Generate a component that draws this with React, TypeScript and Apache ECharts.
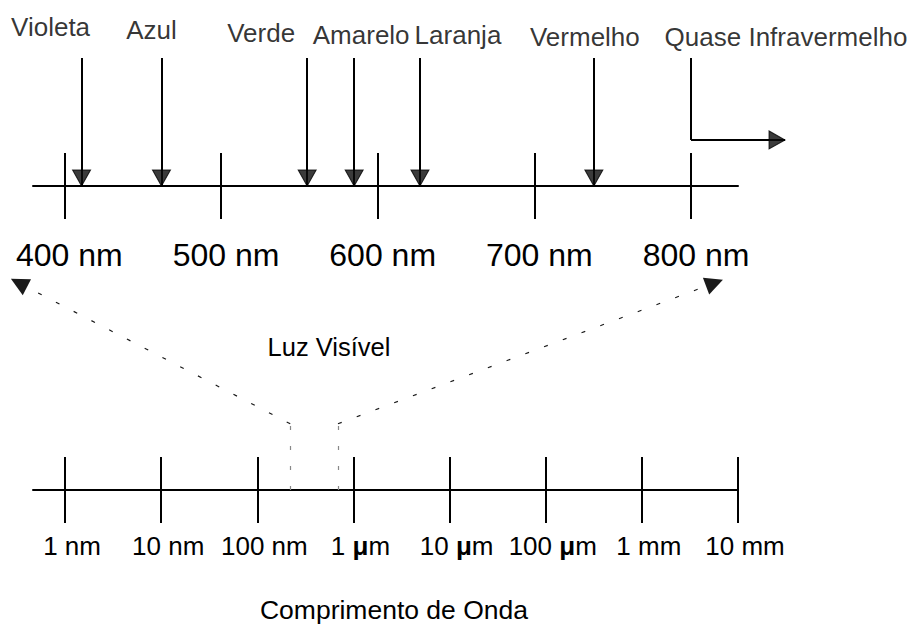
import React, { useEffect, useRef } from "react";
import * as echarts from "echarts";

// ---- data ----
// Upper scale: visible light, in nm
const VISIBLE_TICKS_NM = [400, 500, 600, 700, 800];
const VISIBLE_AXIS_MIN_NM = 380;
const VISIBLE_AXIS_MAX_NM = 830;
const COLOR_NAMES = ["Violeta", "Azul", "Verde", "Amarelo", "Laranja", "Vermelho"];
const COLOR_NM = [411, 462, 555, 585, 627, 738];
const NEAR_IR_NAME = "Quase Infravermelho";
const NEAR_IR_START_NM = 800;
const NEAR_IR_END_NM = 860;
const VISIBLE_TITLE = "Luz Visível";

// Lower scale: whole spectrum (logarithmic), in nm
const SPECTRUM_TICKS_NM = [1, 10, 100, 1000, 10000, 100000, 1000000, 10000000];
const SPECTRUM_TICK_LABELS = ["1 nm", "10 nm", "100 nm", "1 {mu|μ}m", "10 {mu|μ}m", "100 {mu|μ}m", "1 mm", "10 mm"];
const SPECTRUM_AXIS_MIN_NM = 0.464;
const SPECTRUM_AXIS_MAX_NM = 10000000;
const SPECTRUM_TITLE = "Comprimento de Onda";
// where the visible band sits on the lower scale and where the callouts point on the upper scale
const VISIBLE_BAND_ON_SPECTRUM_NM = [220, 690];
const CALLOUT_TARGET_NM = [371, 815];

const FONT = "'Liberation Sans', Arial, Helvetica, sans-serif";
const BLACK = "#000";

export default function App() {
  const ref = useRef<HTMLDivElement | null>(null);

  useEffect(() => {
    if (!ref.current) return;
    const chart = echarts.init(ref.current, null, { renderer: "svg" });

    const spectrumExp = SPECTRUM_TICKS_NM.map((v) => Math.log10(v));
    const spectrumLabel = (v: number) => {
      const i = spectrumExp.findIndex((e) => Math.abs(e - v) < 1e-6);
      return i >= 0 ? SPECTRUM_TICK_LABELS[i] : "";
    };

    const labelOffsets: number[][] = [
      [-31, -31],
      [-10, -28],
      [-46, -25],
      [7, -23],
      [38, -23],
      [-9, -21],
    ];
    const nearIrLabelOffset = [95, -21];
    const cornerY = 0.36;
    const elbowY = 0.32;

    const tickStyle = { color: BLACK, width: 2 };
    const axisBase = (grid: number, min: number, max: number) => ({
      type: "value" as const,
      gridIndex: grid,
      min,
      max,
      position: "bottom" as const,
      splitLine: { show: false },
      nameMoveOverlap: false,
    });

    const xAxes = [
      {
        ...axisBase(0, VISIBLE_AXIS_MIN_NM, VISIBLE_AXIS_MAX_NM),
        name: VISIBLE_TITLE,
        nameLocation: "middle",
        nameGap: 148,
        nameTextStyle: { fontSize: 25.5, color: BLACK, fontFamily: FONT, padding: [0, 113, 0, 0] },
        axisLine: { show: true, onZero: false, lineStyle: { color: BLACK, width: 2 } },
        axisTick: { show: true, customValues: VISIBLE_TICKS_NM, length: 33, lineStyle: tickStyle },
        axisLabel: {
          show: true,
          customValues: VISIBLE_TICKS_NM,
          formatter: (v: number) => `${v} nm`,
          fontSize: 32,
          margin: 53,
          color: BLACK,
          fontFamily: FONT,
          padding: [0, 0, 0, 10],
        },
      },
      {
        ...axisBase(0, VISIBLE_AXIS_MIN_NM, VISIBLE_AXIS_MAX_NM),
        axisLine: { show: false, onZero: false },
        axisTick: { show: true, inside: true, customValues: VISIBLE_TICKS_NM, length: 33, lineStyle: tickStyle },
        axisLabel: { show: false },
      },
      {
        ...axisBase(1, Math.log10(SPECTRUM_AXIS_MIN_NM), Math.log10(SPECTRUM_AXIS_MAX_NM)),
        name: SPECTRUM_TITLE,
        nameLocation: "middle",
        nameGap: 106,
        nameTextStyle: { fontSize: 26.5, color: BLACK, fontFamily: FONT, padding: [0, 0, 0, 17] },
        axisLine: { show: true, onZero: false, lineStyle: { color: BLACK, width: 2 } },
        axisTick: { show: true, customValues: spectrumExp, length: 33, lineStyle: tickStyle },
        axisLabel: {
          show: true,
          customValues: spectrumExp,
          formatter: spectrumLabel,
          fontSize: 26,
          margin: 43,
          color: BLACK,
          fontFamily: FONT,
          padding: [0, 0, 0, 14],
          rich: { mu: { fontSize: 26, fontWeight: "bold", color: BLACK, fontFamily: FONT } },
        },
      },
      {
        ...axisBase(1, Math.log10(SPECTRUM_AXIS_MIN_NM), Math.log10(SPECTRUM_AXIS_MAX_NM)),
        axisLine: { show: false, onZero: false },
        axisTick: { show: true, inside: true, customValues: spectrumExp, length: 33, lineStyle: tickStyle },
        axisLabel: { show: false },
      },
    ];

    const baseSeries: any[] = [
      {
        type: "lines",
        name: "shafts",
        coordinateSystem: "cartesian2d",
        xAxisIndex: 0,
        yAxisIndex: 0,
        clip: false,
        silent: true,
        symbol: "none",
        lineStyle: { color: BLACK, width: 2, opacity: 1, curveness: 0 },
        data: [
          ...COLOR_NM.map((nm) => ({ coords: [[nm, 1], [nm, 0]] })),
          { coords: [[NEAR_IR_START_NM, 1], [NEAR_IR_START_NM, cornerY]] },
          { coords: [[NEAR_IR_START_NM, cornerY], [NEAR_IR_END_NM, cornerY]] },
        ],
      },
      {
        type: "scatter",
        name: "heads",
        xAxisIndex: 0,
        yAxisIndex: 0,
        clip: false,
        silent: true,
        z: 5,
        symbol: "triangle",
        symbolSize: [18, 16],
        symbolRotate: 180,
        symbolOffset: [0, -8],
        itemStyle: { color: "#0a0a0a", borderColor: BLACK, borderWidth: 1 },
        data: [
          ...COLOR_NM.map((nm) => [nm, 0]),
          { value: [NEAR_IR_END_NM, cornerY], symbolRotate: -90, symbolOffset: [-8, 0] },
        ],
      },
      {
        type: "scatter",
        name: "names",
        xAxisIndex: 0,
        yAxisIndex: 0,
        clip: false,
        silent: true,
        symbolSize: 0,
        itemStyle: { color: "rgba(0,0,0,0)" },
        label: {
          show: true,
          position: "inside",
          formatter: "{b}",
          fontSize: 26,
          color: BLACK,
          fontFamily: FONT,
        },
        data: [
          ...COLOR_NAMES.map((name, i) => ({
            name,
            value: [COLOR_NM[i], 1],
            label: { offset: labelOffsets[i] },
          })),
          { name: NEAR_IR_NAME, value: [NEAR_IR_START_NM, 1], label: { offset: nearIrLabelOffset } },
        ],
      },
    ];

    const option: any = {
      animation: false,
      textStyle: { fontFamily: FONT },
      grid: [
        { left: 33, width: 705, top: 58, height: 128, outerBoundsMode: "none", containLabel: false },
        { left: 33, width: 705, top: 283, height: 207, outerBoundsMode: "none", containLabel: false },
      ],
      xAxis: xAxes,
      yAxis: [
        { type: "value", gridIndex: 0, min: 0, max: 1, show: false },
        { type: "value", gridIndex: 1, min: 0, max: 1, show: false },
      ],
      series: baseSeries,
    };

    chart.setOption(option);

    // map the callout targets on the upper scale into the lower scale's coordinates
    const calloutX = CALLOUT_TARGET_NM.map((nm) => {
      const px = chart.convertToPixel({ xAxisIndex: 0 }, nm) as number;
      return chart.convertFromPixel({ xAxisIndex: 2 }, px) as number;
    });
    const bandX = VISIBLE_BAND_ON_SPECTRUM_NM.map((v) => Math.log10(v));

    chart.setOption({
      series: [
        ...baseSeries,
        {
          type: "lines",
          name: "band",
          coordinateSystem: "cartesian2d",
          xAxisIndex: 2,
          yAxisIndex: 1,
          clip: false,
          silent: true,
          symbol: "none",
          lineStyle: { color: "#888", width: 1.2, opacity: 1, type: [4, 16] },
          data: bandX.map((x) => ({ coords: [[x, 0], [x, elbowY]] })),
        },
        {
          type: "lines",
          name: "callouts",
          coordinateSystem: "cartesian2d",
          xAxisIndex: 2,
          yAxisIndex: 1,
          clip: false,
          silent: true,
          symbol: ["none", "triangle"],
          symbolSize: [20, 18],
          lineStyle: { color: "#1a1a1a", width: 1.2, opacity: 1, type: [4, 16] },
          data: bandX.map((x, i) => ({ coords: [[x, elbowY], [calloutX[i], 1]] })),
        },
      ],
    });

    return () => chart.dispose();
  }, []);

  return (
    <div
      ref={ref}
      style={{ position: "fixed", left: 0, top: 0, width: 916, height: 624, background: "#fff" }}
    />
  );
}
